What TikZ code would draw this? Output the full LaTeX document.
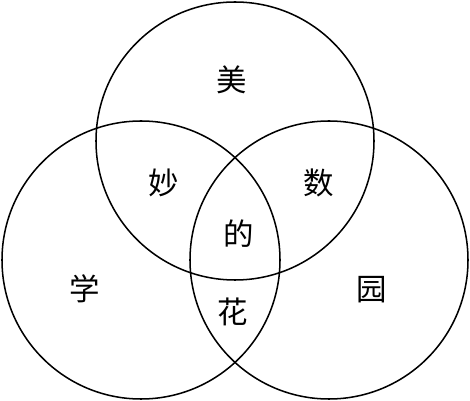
\documentclass[tikz,border=0pt]{standalone}
\usepackage{fontspec}
\newfontfamily\cjk{Noto Sans CJK SC}
\usepackage{tikz}

\begin{document}
\begin{tikzpicture}[
    x=0.03cm, y=-0.03cm,
    ring/.style={line width=1.3pt},
    word/.style={font=\cjk\fontsize{26}{26}\selectfont, inner sep=0pt}
  ]
  \useasboundingbox (0,0) rectangle (470,401);

  % ---- Circles ----
  \draw[ring] (235,141) circle[radius=139];
  \draw[ring] (141,260) circle[radius=139];
  \draw[ring] (329,260) circle[radius=139];

  % ---- Words ----
  \node[word] (mei)  at (232,80)  {美};
  \node[word] (miao) at (164,183) {妙};
  \node[word] (shu)  at (319,183) {数};
  \node[word] (de)   at (239,234) {的};
  \node[word] (xue)  at (85,289)  {学};
  \node[word] (yuan) at (372,290) {园};
  \node[word] (hua)  at (233,312) {花};
\end{tikzpicture}
\end{document}
